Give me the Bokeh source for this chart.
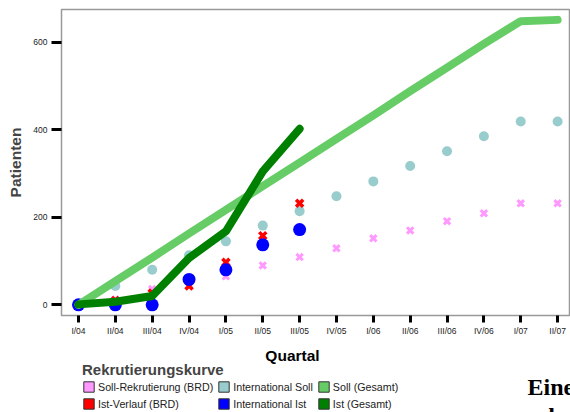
from bokeh.plotting import figure
from bokeh.layouts import column
from bokeh.models import Range1d, FixedTicker, Legend, LegendItem, Label
from bokeh.embed import file_html
from bokeh.resources import INLINE

# ---- data ----
quarters = ["I/04", "II/04", "III/04", "IV/04", "I/05", "II/05", "III/05",
            "IV/05", "I/06", "II/06", "III/06", "IV/06", "I/07", "II/07"]
soll_brd = [0, 12, 36, 45, 65, 90, 109, 129, 152, 170, 191, 209, 232, 232]
ist_brd = [0, 10, 27, 43, 97, 158, 232]
intl_soll = [0, 43, 80, 113, 145, 181, 214, 248, 282, 317, 351, 385, 419, 419]
intl_ist = [0, 0, 0, 58, 80, 137, 172]
soll_ges = [0, 54, 108, 163, 217, 271, 325, 379, 433, 488, 542, 596, 648, 651]
ist_ges = [1, 7, 20, 107, 168, 305, 402]
y_ticks = [0, 200, 400, 600]

series = [soll_brd, ist_brd, intl_soll, intl_ist, soll_ges, ist_ges]
legend_labels = ["Soll-Rekrutierung (BRD)", "Ist-Verlauf (BRD)",
                 "International Soll", "International Ist",
                 "Soll (Gesamt)", "Ist (Gesamt)"]
c_soll_brd = "#ff99ff"
c_ist_brd = "#ff0000"
c_intl_soll = "#99cccc"
c_intl_ist = "#0000ff"
c_soll_ges = "#66cc66"
c_ist_ges = "#008000"
legend_colors = [c_soll_brd, c_ist_brd, c_intl_soll, c_intl_ist, c_soll_ges, c_ist_ges]

FONT = "Liberation Sans"

xs = list(range(len(quarters)))

# ---------------- main chart ----------------
p = figure(width=570, height=338, output_backend="svg", toolbar_location=None,
           x_range=Range1d(-0.461, 13.35), y_range=Range1d(-24.4, 674.7),
           min_border_left=61, min_border_right=0, min_border_top=9,
           min_border_bottom=23)
p.xgrid.visible = False
p.ygrid.visible = False
p.outline_line_color = "#999999"
p.outline_line_width = 1.5
p.background_fill_color = "white"
p.border_fill_color = "white"

# markers
p.scatter(xs, soll_brd, marker="x", size=9, line_color=c_soll_brd, line_width=3)
p.scatter(xs, intl_soll, marker="circle", size=10, fill_color=c_intl_soll, line_color=None)
p.scatter(xs[:len(ist_brd)], ist_brd, marker="x", size=10, line_color=c_ist_brd, line_width=3.5)
p.scatter(xs[:len(intl_ist)], intl_ist, marker="circle", size=13, fill_color=c_intl_ist, line_color=None)
# lines
p.line(xs, soll_ges, line_color=c_soll_ges, line_width=8, line_cap="round", line_join="round")
p.line(xs[:len(ist_ges)], ist_ges, line_color=c_ist_ges, line_width=8, line_cap="round", line_join="round")

# axes
for ax in (p.xaxis[0], p.yaxis[0]):
    ax.axis_line_color = None
    ax.major_tick_line_color = "black"
    ax.major_tick_line_width = 3
    ax.major_tick_in = 0
    ax.minor_tick_line_color = None
    ax.major_label_text_font = FONT
    ax.major_label_text_font_size = "8.5px"
    ax.major_label_text_color = "#222222"

p.xaxis.ticker = FixedTicker(ticks=xs)
p.xaxis.major_label_overrides = {i: q for i, q in zip(xs, quarters)}
p.xaxis.major_tick_out = 7
p.xaxis.major_label_standoff = 3

p.yaxis.ticker = FixedTicker(ticks=y_ticks)
p.yaxis.major_tick_out = 10
p.yaxis.major_label_standoff = 4
p.yaxis.axis_label = "Patienten"
p.yaxis.axis_label_text_font = FONT
p.yaxis.axis_label_text_font_style = "bold"
p.yaxis.axis_label_text_font_size = "15.5px"
p.yaxis.axis_label_standoff = 6

# ---------------- lower strip: axis title, legend, page text ----------------
# the strip's frame is aligned with the chart frame (x 61..570); its data
# coordinates equal page pixels (y grows downwards)
q = figure(width=570, height=74, output_backend="svg", toolbar_location=None,
           x_range=Range1d(61, 570), y_range=Range1d(412, 338),
           x_axis_location=None, y_axis_location=None,
           min_border_left=61, min_border_right=0, min_border_top=0, min_border_bottom=0)
q.xgrid.visible = False
q.ygrid.visible = False
q.outline_line_color = None
q.background_fill_color = "white"
q.border_fill_color = "white"

q.add_layout(Label(x=292, y=355, text="Quartal",
                   text_font=FONT, text_font_style="bold", text_font_size="15.5px",
                   text_align="center", text_baseline="middle", text_color="black"))

# legend swatches: hidden quads built from each series (never drawn on the chart)
items = []
for lab, col, vals in zip(legend_labels, legend_colors, series):
    r = q.quad(left=xs[:len(vals)], right=xs[:len(vals)], bottom=vals, top=vals,
               fill_color=col, line_color="#333333", line_width=1, visible=False)
    items.append(LegendItem(label=lab, renderers=[r]))
legend = Legend(items=items, location=(21, 2), orientation="vertical", nrows=2,
                title="Rekrutierungskurve", title_text_font=FONT,
                title_text_font_style="bold", title_text_font_size="15px",
                title_standoff=2, label_text_font=FONT, label_text_font_size="10.7px",
                label_text_color="#222222", label_height=12, glyph_height=13,
                glyph_width=13, label_standoff=3, spacing=4, padding=0, margin=0,
                border_line_color=None, background_fill_alpha=0,
                inactive_fill_alpha=0)
q.add_layout(legend, "center")

q.add_layout(Label(x=527, y=386, text="Eine",
                   text_font="Liberation Serif", text_font_style="bold",
                   text_font_size="24px", text_baseline="middle", text_color="black"))
q.add_layout(Label(x=541, y=415, text="d",
                   text_font="Liberation Serif", text_font_style="bold",
                   text_font_size="24px", text_baseline="middle", text_color="black"))

layout = column(p, q, spacing=0)
open("out.html", "w").write(file_html(layout, INLINE))
